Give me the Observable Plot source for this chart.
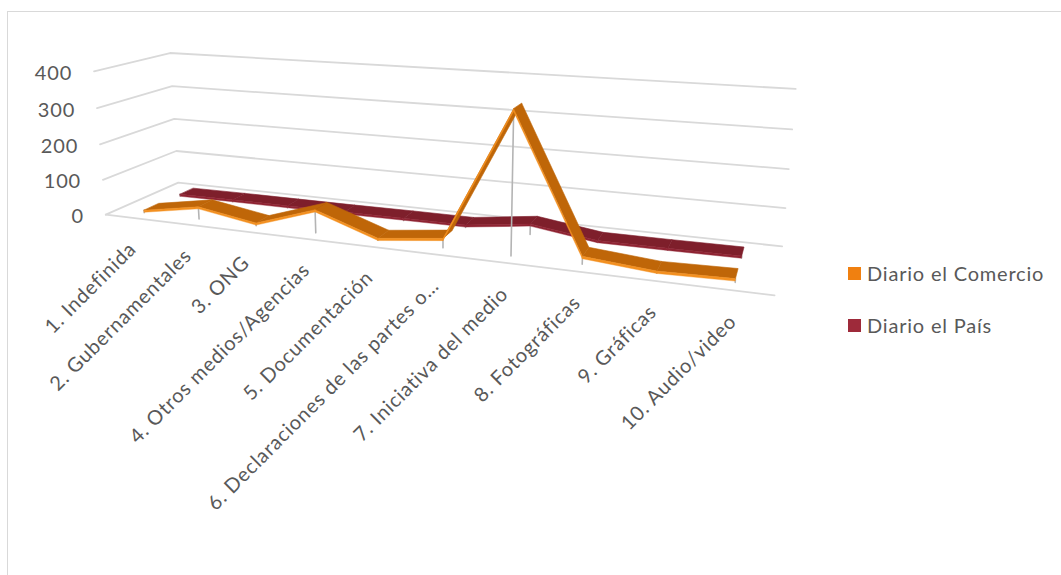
<!DOCTYPE html>
<html>
<head>
<meta charset="utf-8">
<script src="https://cdn.jsdelivr.net/npm/d3@7"></script>
<script src="https://cdn.jsdelivr.net/npm/@observablehq/plot@0.6"></script>
<style>
  body { margin: 0; background: #fff; font-family: Lato, "Noto Sans", sans-serif; }
  #wrap { position: relative; width: 1061px; height: 575px; overflow: hidden; }
  #frame { position: absolute; left: 7px; top: 11px; width: 1200px; height: 700px; border: 1.5px solid #d9d9d9; box-sizing: border-box; }
  #chart { position: absolute; left: 0; top: 0; }
  .key { position: absolute; left: 848px; display: flex; align-items: center; font-size: 20px; letter-spacing: 0.8px; color: #595959; white-space: nowrap; }
  .key span.sw { width: 13px; height: 13px; margin-right: 6px; display: inline-block; }
</style>
</head>
<body>
<div id="wrap">
  <div id="frame"></div>
  <div id="chart"></div>
  <div id="legend"></div>
</div>
<script>
// Categories (news sources) and counts per newspaper
const categories = [
  "1. Indefinida",
  "2. Gubernamentales",
  "3. ONG",
  "4. Otros medios/Agencias",
  "5. Documentación",
  "6. Declaraciones de las partes o…",
  "7. Iniciativa del medio",
  "8. Fotográficas",
  "9. Gráficas",
  "10. Audio/video"
];
const comercio = [7, 35, 8, 63, 5, 25, 366, 20, 5, 9];
const pais = [5, 6, 6, 6, 7, 7, 29, 4, 4, 5];
const seriesNames = ["Diario el Comercio", "Diario el País"];
const yTicks = [0, 100, 200, 300, 400];

// Box of the 3D plot area: [category position, value, depth (0 front .. 1 back), px, py]
const boxAnchors = [
  [0.5, 0, 0, 106, 214], [0.5, 0, 1, 176.7, 182.7], [10.5, 0, 1, 781.7, 245.7], [10.5, 0, 0, 774, 295],
  [0.5, 400, 1, 170, 52.7], [10.5, 400, 1, 795, 88.3], [0.5, 400, 0, 92.7, 70.7],
  [0.5, 100, 0, 102.7, 179.3], [0.5, 200, 0, 99.3, 144], [0.5, 300, 0, 96.7, 107.7],
  [0.5, 100, 1, 175.7, 150], [0.5, 200, 1, 174.3, 118.3], [0.5, 300, 1, 171.7, 85.7],
  [10.5, 100, 1, 785, 207.3], [10.5, 200, 1, 788.3, 169], [10.5, 300, 1, 791.7, 129]
];

const xMin = 0.5, xMax = 10.5, yMax = 400;

// Fit a 3x4 perspective camera matrix (least squares DLT) to the box corners
function fitCamera(anchors) {
  const n = 11;
  const M = Array.from({length: n}, () => new Array(n + 1).fill(0));
  const addRow = (a, b) => {
    for (let i = 0; i < n; i++) {
      for (let j = 0; j < n; j++) M[i][j] += a[i] * a[j];
      M[i][n] += a[i] * b;
    }
  };
  for (const [cx, val, Z, px, py] of anchors) {
    const X = (cx - xMin) / (xMax - xMin), Y = val / yMax;
    const u = px / 1000, v = py / 1000;
    addRow([X, Y, Z, 1, 0, 0, 0, 0, -u * X, -u * Y, -u * Z], u);
    addRow([0, 0, 0, 0, X, Y, Z, 1, -v * X, -v * Y, -v * Z], v);
  }
  for (let c = 0; c < n; c++) {
    let p = c;
    for (let r = c + 1; r < n; r++) if (Math.abs(M[r][c]) > Math.abs(M[p][c])) p = r;
    [M[c], M[p]] = [M[p], M[c]];
    for (let r = 0; r < n; r++) {
      if (r === c) continue;
      const f = M[r][c] / M[c][c];
      for (let k = c; k <= n; k++) M[r][k] -= f * M[c][k];
    }
  }
  const q = M.map((row, i) => row[n] / row[i]);
  return (cx, val, Z) => {
    const X = (cx - xMin) / (xMax - xMin), Y = val / yMax;
    const w = q[8] * X + q[9] * Y + q[10] * Z + 1;
    return [1000 * (q[0] * X + q[1] * Y + q[2] * Z + q[3]) / w,
            1000 * (q[4] * X + q[5] * Y + q[6] * Z + q[7]) / w];
  };
}
const camera = fitCamera(boxAnchors);

// Custom Plot projection: (category, value, depth) -> screen
const perspective = {
  stream(s) {
    return {
      point(x, y, z) { const [u, v] = camera(x, y, z ?? 0); s.point(u, v); },
      sphere() { s.sphere && s.sphere(); },
      lineStart() { s.lineStart && s.lineStart(); },
      lineEnd() { s.lineEnd && s.lineEnd(); },
      polygonStart() { s.polygonStart && s.polygonStart(); },
      polygonEnd() { s.polygonEnd && s.polygonEnd(); }
    };
  }
};

// Gridlines on the side and back walls, plus the front edge of the floor
const gridLines = yTicks.map(t => ({type: "LineString", coordinates: [[xMin, t, 0], [xMin, t, 1], [xMax, t, 1]]}));
gridLines.push({type: "LineString", coordinates: [[xMin, 0, 0], [xMax, 0, 0]]});

// Ribbon geometry for a series lying at depth [z0, z1]
const thick = 6;
function ribbon(values, z0, z1) {
  const top = [], front = [], drops = [];
  values.forEach((v, i) => {
    const x = i + 1;
    drops.push({type: "LineString", coordinates: [[x, v, z0], [x, 0, z0]]});
    if (i + 1 < values.length) {
      const w = values[i + 1];
      top.push({type: "Polygon", coordinates: [[[x, v, z0], [x + 1, w, z0], [x + 1, w, z1], [x, v, z1], [x, v, z0]]]});
      front.push({type: "Polygon", coordinates: [[[x, v, z0], [x + 1, w, z0], [x + 1, w - thick, z0], [x, v - thick, z0], [x, v, z0]]]});
    }
  });
  return {top, front, drops};
}
const rPais = ribbon(pais, 0.65, 0.85);
const rCom = ribbon(comercio, 0.15, 0.35);

const colors = {
  comercioTop: "#bf6608", comercioFront: "#f39020", comercioKey: "#f08010",
  paisTop: "#7e1f2b", paisFront: "#8f2433", paisKey: "#9e2a3a",
  drop: "#b4b4b4", grid: "#d9d9d9", text: "#595959"
};

const chart = Plot.plot({
  width: 1061,
  height: 575,
  margin: 0,
  projection: perspective,
  style: "font-family: Lato, 'Noto Sans', sans-serif; letter-spacing: 0.8px; background: transparent; overflow: visible;",
  marks: [
    Plot.geo(gridLines, {stroke: colors.grid, strokeWidth: 1.8}),
    Plot.geo(rPais.drops, {stroke: colors.drop, strokeWidth: 1.6}),
    Plot.geo(rPais.top, {fill: colors.paisTop, stroke: colors.paisTop, strokeWidth: 0.6}),
    Plot.geo(rPais.front, {fill: colors.paisFront, stroke: colors.paisFront, strokeWidth: 0.4}),
    Plot.geo(rCom.drops, {stroke: colors.drop, strokeWidth: 1.6}),
    Plot.geo(rCom.top, {fill: colors.comercioTop, stroke: colors.comercioTop, strokeWidth: 0.6}),
    Plot.geo(rCom.front, {fill: colors.comercioFront, stroke: colors.comercioFront, strokeWidth: 0.4}),
    Plot.text(yTicks, {x: () => xMin, y: d => d, text: d => String(d), textAnchor: "end", dx: -22, dy: 2, fontSize: 20, fill: colors.text}),
    Plot.text(categories, {x: (d, i) => i + 1, y: () => 0, text: d => d, rotate: -45, textAnchor: "end", dy: 28, fontSize: 20, fill: colors.text})
  ]
});
document.getElementById("chart").appendChild(chart);

// Legend
const legend = document.getElementById("legend");
[[seriesNames[0], colors.comercioKey, 261], [seriesNames[1], colors.paisKey, 313]].forEach(([name, color, top]) => {
  const k = document.createElement("div");
  k.className = "key";
  k.style.top = top + "px";
  k.innerHTML = `<span class="sw" style="background:${color}"></span>${name}`;
  legend.appendChild(k);
});
</script>
</body>
</html>
